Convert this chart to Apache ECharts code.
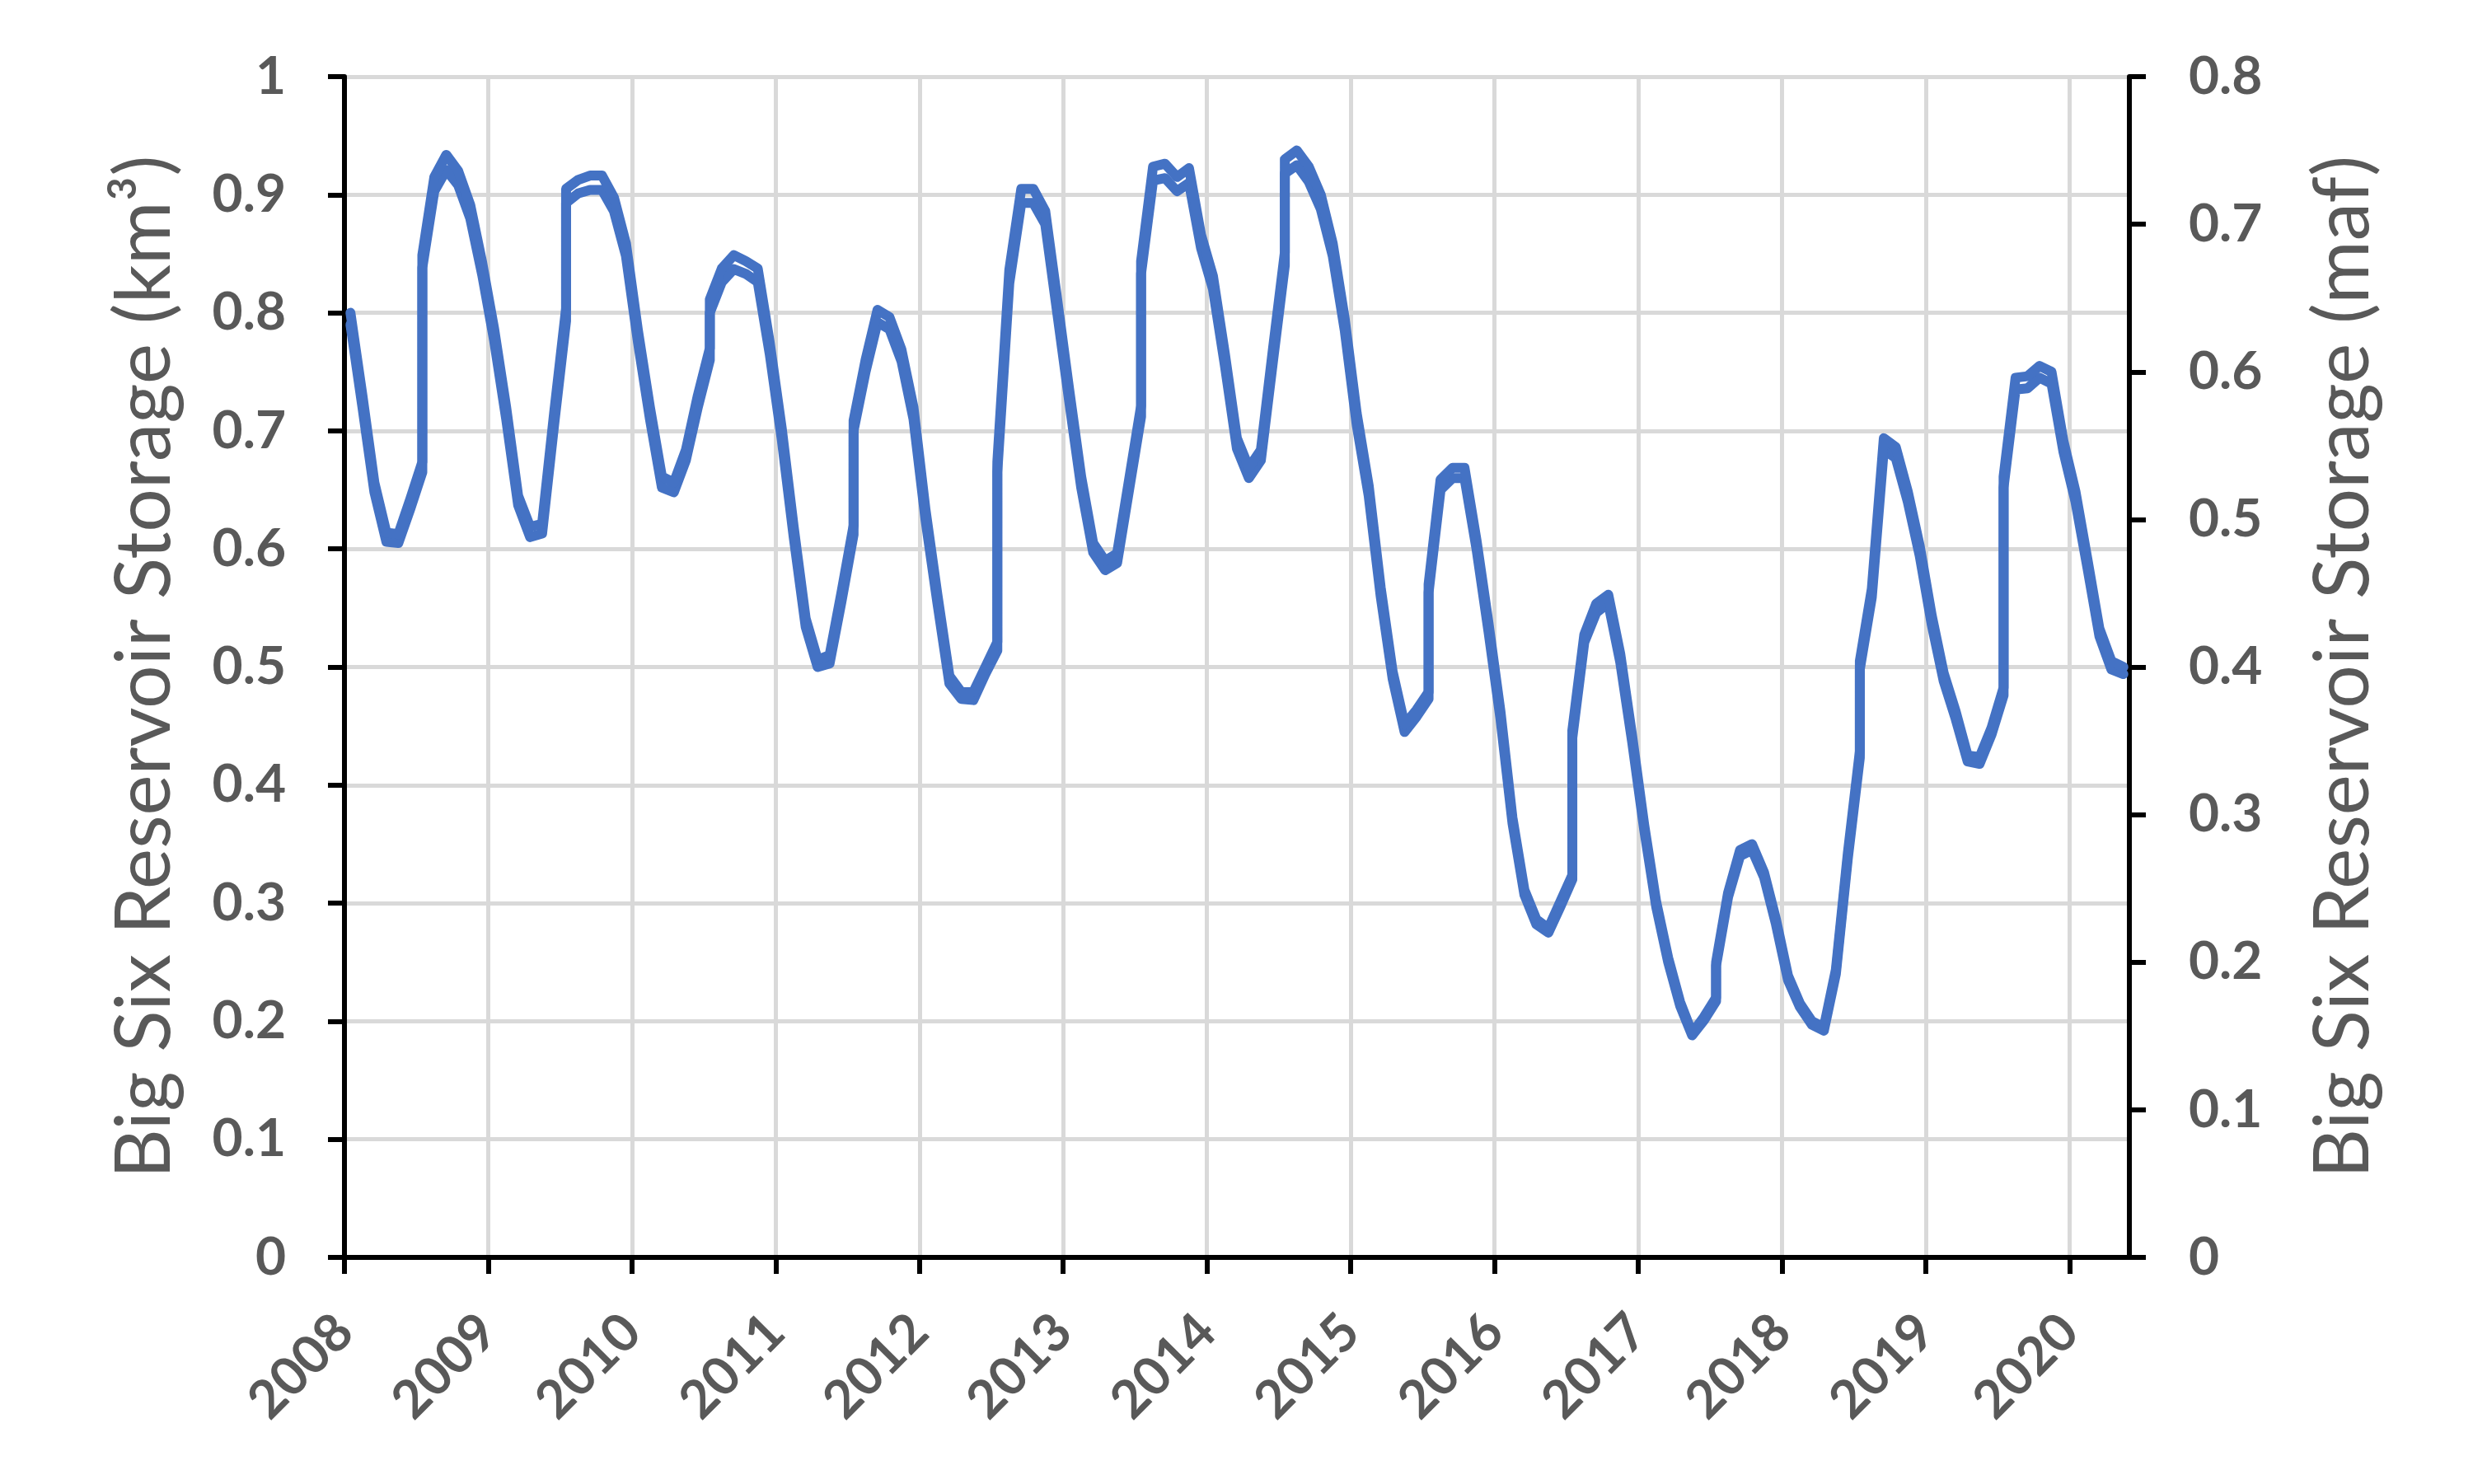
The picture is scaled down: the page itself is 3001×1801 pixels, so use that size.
<!DOCTYPE html>
<html>
<head>
<meta charset="utf-8">
<title>Big Six Reservoir Storage</title>
<script src="https://cdn.jsdelivr.net/npm/echarts@6/dist/echarts.min.js"></script>
<style>
  html, body { margin: 0; padding: 0; background: #fff; }
  #chart { width: 3001px; height: 1801px; }
</style>
</head>
<body>
<div id="chart"></div>
<script>
// mid-month readings, July shows up twice each year where the record jumps
const dates = [
  '2008-01','2008-02','2008-03','2008-04','2008-05','2008-06','2008-07','2008-07','2008-08','2008-09','2008-10','2008-11','2008-12',
  '2009-01','2009-02','2009-03','2009-04','2009-05','2009-06','2009-07','2009-07','2009-08','2009-09','2009-10','2009-11','2009-12',
  '2010-01','2010-02','2010-03','2010-04','2010-05','2010-06','2010-07','2010-07','2010-08','2010-09','2010-10','2010-11','2010-12',
  '2011-01','2011-02','2011-03','2011-04','2011-05','2011-06','2011-07','2011-07','2011-08','2011-09','2011-10','2011-11','2011-12',
  '2012-01','2012-02','2012-03','2012-04','2012-05','2012-06','2012-07','2012-07','2012-08','2012-09','2012-10','2012-11','2012-12',
  '2013-01','2013-02','2013-03','2013-04','2013-05','2013-06','2013-07','2013-07','2013-08','2013-09','2013-10','2013-11','2013-12',
  '2014-01','2014-02','2014-03','2014-04','2014-05','2014-06','2014-07','2014-07','2014-08','2014-09','2014-10','2014-11','2014-12',
  '2015-01','2015-02','2015-03','2015-04','2015-05','2015-06','2015-07','2015-07','2015-08','2015-09','2015-10','2015-11','2015-12',
  '2016-01','2016-02','2016-03','2016-04','2016-05','2016-06','2016-07','2016-07','2016-08','2016-09','2016-10','2016-11','2016-12',
  '2017-01','2017-02','2017-03','2017-04','2017-05','2017-06','2017-07','2017-07','2017-08','2017-09','2017-10','2017-11','2017-12',
  '2018-01','2018-02','2018-03','2018-04','2018-05','2018-06','2018-07','2018-07','2018-08','2018-09','2018-10','2018-11','2018-12',
  '2019-01','2019-02','2019-03','2019-04','2019-05','2019-06','2019-07','2019-07','2019-08','2019-09','2019-10','2019-11','2019-12',
  '2020-01','2020-02','2020-03','2020-04','2020-05'
];

// storage in km3 (left axis)
const storageKm3 = [
  0.790, 0.720, 0.648, 0.606, 0.605, 0.634, 0.665, 0.838, 0.903, 0.921, 0.908, 0.880, 0.832,
  0.776, 0.710, 0.637, 0.610, 0.613, 0.705, 0.793, 0.893, 0.901, 0.904, 0.904, 0.886, 0.848,
  0.775, 0.710, 0.652, 0.648, 0.675, 0.720, 0.760, 0.800, 0.826, 0.837, 0.833, 0.826, 0.765,
  0.693, 0.610, 0.534, 0.500, 0.503, 0.556, 0.612, 0.700, 0.750, 0.792, 0.786, 0.759, 0.710,
  0.625, 0.554, 0.486, 0.473, 0.472, 0.494, 0.514, 0.665, 0.825, 0.893, 0.893, 0.875, 0.800,
  0.725, 0.652, 0.597, 0.582, 0.588, 0.650, 0.712, 0.833, 0.912, 0.914, 0.903, 0.910, 0.855,
  0.820, 0.755, 0.685, 0.660, 0.675, 0.758, 0.840, 0.918, 0.925, 0.911, 0.888, 0.848, 0.785,
  0.705, 0.645, 0.560, 0.490, 0.445, 0.458, 0.473, 0.563, 0.650, 0.660, 0.660, 0.600, 0.530,
  0.456, 0.368, 0.307, 0.282, 0.275, 0.297, 0.320, 0.440, 0.521, 0.546, 0.554, 0.504, 0.436,
  0.362, 0.297, 0.250, 0.213, 0.188, 0.201, 0.217, 0.247, 0.305, 0.340, 0.345, 0.322, 0.282,
  0.235, 0.212, 0.197, 0.192, 0.240, 0.338, 0.423, 0.498, 0.559, 0.684, 0.677, 0.640, 0.594,
  0.536, 0.488, 0.456, 0.420, 0.418, 0.443, 0.476, 0.652, 0.735, 0.736, 0.745, 0.740, 0.682,
  0.640, 0.584, 0.526, 0.498, 0.494
];

// same storage in million acre-feet (right axis)
const storageMaf = [
  0.640, 0.584, 0.525, 0.491, 0.490, 0.514, 0.539, 0.679, 0.732, 0.747, 0.736, 0.713, 0.674,
  0.629, 0.576, 0.516, 0.495, 0.497, 0.572, 0.643, 0.724, 0.730, 0.733, 0.733, 0.718, 0.687,
  0.628, 0.576, 0.529, 0.525, 0.547, 0.584, 0.616, 0.649, 0.670, 0.679, 0.675, 0.670, 0.620,
  0.562, 0.495, 0.433, 0.405, 0.408, 0.451, 0.496, 0.567, 0.608, 0.642, 0.637, 0.615, 0.576,
  0.507, 0.449, 0.394, 0.383, 0.383, 0.400, 0.417, 0.539, 0.669, 0.724, 0.724, 0.709, 0.649,
  0.588, 0.529, 0.484, 0.472, 0.477, 0.527, 0.577, 0.675, 0.739, 0.741, 0.732, 0.738, 0.693,
  0.665, 0.612, 0.555, 0.535, 0.547, 0.615, 0.681, 0.744, 0.750, 0.739, 0.720, 0.687, 0.636,
  0.572, 0.523, 0.454, 0.397, 0.361, 0.371, 0.383, 0.456, 0.527, 0.535, 0.535, 0.486, 0.430,
  0.370, 0.298, 0.249, 0.229, 0.223, 0.241, 0.259, 0.357, 0.422, 0.443, 0.449, 0.409, 0.353,
  0.293, 0.241, 0.203, 0.173, 0.152, 0.163, 0.176, 0.200, 0.247, 0.276, 0.280, 0.261, 0.229,
  0.191, 0.172, 0.160, 0.156, 0.195, 0.274, 0.343, 0.404, 0.453, 0.555, 0.549, 0.519, 0.482,
  0.435, 0.396, 0.370, 0.340, 0.339, 0.359, 0.386, 0.529, 0.596, 0.597, 0.604, 0.600, 0.553,
  0.519, 0.473, 0.426, 0.404, 0.400
];

const yearLabels = ['2008','2009','2010','2011','2012','2013','2014','2015','2016','2017','2018','2019','2020'];

// x is months since Jan 2008, each reading sits mid-month
function monthPos(d) {
  const parts = d.split('-');
  return (Number(parts[0]) - 2008) * 12 + (Number(parts[1]) - 1) + 0.5;
}
const yearTicks = yearLabels.map(y => (Number(y) - 2008) * 12);

const labelStyle = {
  fontFamily: 'Lato',
  fontSize: 64,
  fontWeight: 'bold',
  color: '#595959'
};
const nameStyle = {
  fontFamily: 'Lato',
  fontSize: 93,
  color: '#595959'
};
const blackLine = { color: '#000', width: 6 };
const blueLine = { color: '#4472C4', width: 12, join: 'round', cap: 'round' };

const myChart = echarts.init(document.getElementById('chart'));
myChart.setOption({
  animation: false,
  backgroundColor: '#fff',
  textStyle: { fontFamily: 'Lato' },
  grid: {
    left: 418,
    right: 417,
    top: 93,
    bottom: 275,
    containLabel: false,
    outerBoundsMode: 'none'
  },
  xAxis: {
    type: 'value',
    min: 0,
    max: 149, // 1 Jun 2020
    interval: 12,
    axisLine: { onZero: false, lineStyle: blackLine },
    axisTick: {
      show: true,
      length: 20,
      customValues: yearTicks,
      lineStyle: blackLine
    },
    axisLabel: Object.assign({}, labelStyle, {
      customValues: yearTicks,
      rotate: 45,
      margin: 80,
      formatter: v => yearLabels[Math.round(v / 12)]
    }),
    splitLine: { show: true, lineStyle: { color: '#D9D9D9', width: 5 } }
  },
  yAxis: [
    {
      type: 'value',
      position: 'left',
      min: 0,
      max: 1,
      interval: 0.1,
      name: 'Big Six Reservoir Storage (km³)',
      nameLocation: 'middle',
      nameRotate: 90,
      nameGap: 196,
      nameTextStyle: nameStyle,
      axisLine: { show: true, lineStyle: blackLine },
      axisTick: { show: true, length: 20, lineStyle: blackLine },
      axisLabel: Object.assign({}, labelStyle, { margin: 71 }),
      splitLine: { show: true, lineStyle: { color: '#D9D9D9', width: 5 } }
    },
    {
      type: 'value',
      position: 'right',
      min: 0,
      max: 0.8,
      interval: 0.1,
      name: 'Big Six Reservoir Storage (maf)',
      nameLocation: 'middle',
      nameRotate: 90,
      nameGap: 213,
      nameTextStyle: nameStyle,
      axisLine: { show: true, lineStyle: blackLine },
      axisTick: { show: true, length: 20, lineStyle: blackLine },
      axisLabel: Object.assign({}, labelStyle, { margin: 72 }),
      splitLine: { show: false }
    }
  ],
  series: [
    {
      name: 'km3',
      type: 'line',
      yAxisIndex: 0,
      data: dates.map((d, i) => [monthPos(d), storageKm3[i]]),
      symbol: 'none',
      lineStyle: blueLine,
      itemStyle: { color: '#4472C4' }
    },
    {
      name: 'maf',
      type: 'line',
      yAxisIndex: 1,
      data: dates.map((d, i) => [monthPos(d), storageMaf[i]]),
      symbol: 'none',
      lineStyle: blueLine,
      itemStyle: { color: '#4472C4' }
    }
  ]
});
</script>
</body>
</html>
